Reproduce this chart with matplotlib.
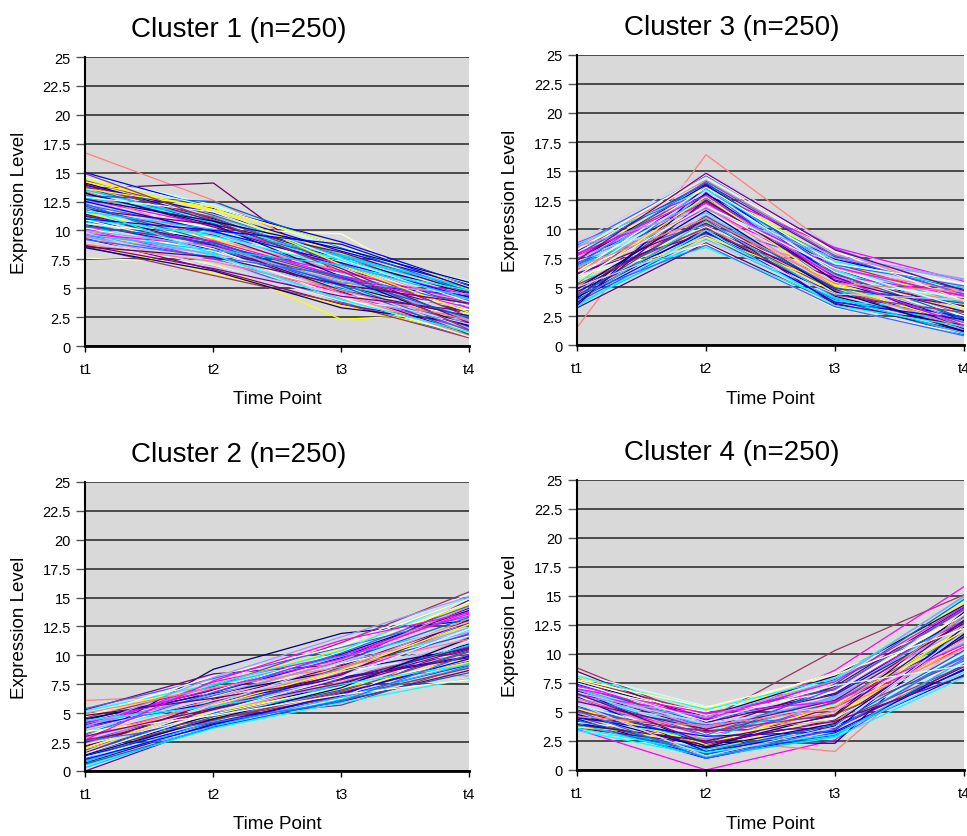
import matplotlib
matplotlib.use("Agg")
import matplotlib.pyplot as plt

plt.rcParams["font.family"] = ["Liberation Sans", "DejaVu Sans"]

time_points = ["t1", "t2", "t3", "t4"]
y_ticks = [0, 2.5, 5, 7.5, 10, 12.5, 15, 17.5, 20, 22.5, 25]
y_tick_labels = ["0", "2.5", "5", "7.5", "10", "12.5", "15", "17.5", "20", "22.5", "25"]

# profiles (a subset of the 250 genes per cluster)
cluster1 = [
    [16.7, 12.6, 7.4, 4.6], [13.6, 14.1, 6.0, 4.2], [7.6, 7.2, 6.3, 3.1],
    [12.0, 10.2, 9.7, 3.5], [10.0, 7.2, 2.3, 2.9], [14.8, 12.2, 8.3, 5.6],
    [14.5, 11.6, 8.0, 4.9], [14.3, 11.3, 7.8, 3.9], [14.1, 11.0, 7.5, 4.5],
    [13.9, 11.5, 8.2, 5.2], [13.7, 10.6, 7.2, 3.3], [13.5, 10.9, 7.7, 4.8],
    [13.3, 10.3, 6.9, 2.6], [13.1, 10.7, 7.4, 4.1], [12.9, 10.1, 6.6, 3.0],
    [12.7, 10.4, 7.0, 4.4], [12.6, 9.8, 6.3, 2.2], [12.4, 9.5, 6.8, 3.7],
    [12.2, 10.0, 6.1, 1.6], [12.0, 9.2, 6.5, 4.0], [11.9, 9.6, 5.9, 2.9],
    [11.7, 8.9, 6.2, 3.5], [11.5, 9.3, 5.6, 1.2], [11.3, 8.6, 5.8, 3.8],
    [11.2, 9.0, 5.3, 2.4], [11.0, 8.3, 5.5, 4.3], [10.8, 8.8, 5.0, 1.9],
    [10.7, 8.1, 5.2, 3.2], [10.5, 8.5, 4.7, 1.0], [10.4, 7.8, 4.9, 2.7],
    [10.2, 8.2, 4.4, 3.6], [10.1, 7.5, 4.6, 1.4], [9.9, 7.9, 4.1, 2.1],
    [9.8, 7.2, 4.3, 3.4], [9.6, 7.6, 3.8, 0.8], [9.5, 6.9, 4.0, 2.5],
    [9.3, 6.6, 3.6, 1.8], [9.1, 7.0, 3.9, 2.8], [8.9, 6.3, 3.5, 1.1],
    [8.6, 6.1, 3.7, 0.7], [8.5, 6.5, 3.3, 2.0], [15.0, 11.9, 9.0, 5.3],
    [13.0, 12.5, 8.5, 4.7], [12.8, 11.2, 7.9, 5.0], [11.8, 10.5, 8.1, 4.6],
    [10.9, 9.7, 7.6, 4.0], [10.6, 9.4, 7.3, 3.1], [9.7, 8.7, 6.4, 3.9],
    [9.4, 8.0, 5.7, 2.3], [9.0, 7.4, 5.1, 1.5], [12.3, 8.4, 5.4, 1.3],
    [13.4, 9.1, 4.5, 0.9], [14.0, 10.8, 6.7, 2.0], [14.6, 12.0, 8.6, 5.4],
    [14.2, 11.8, 8.8, 5.1], [13.8, 11.1, 7.1, 2.5], [13.2, 10.5, 6.0, 1.7],
    [12.5, 9.9, 7.2, 4.2], [12.1, 9.0, 5.2, 1.0], [11.6, 10.1, 7.8, 5.0],
    [11.4, 8.7, 4.8, 2.6], [11.1, 9.5, 6.9, 4.8], [10.9, 8.4, 4.2, 0.8],
    [10.3, 9.1, 6.0, 3.3], [10.0, 8.6, 5.5, 4.5], [9.8, 6.8, 4.5, 1.9],
    [9.2, 7.7, 6.1, 3.6], [8.8, 7.3, 4.8, 2.2], [8.7, 6.7, 4.3, 3.0],
    [12.9, 11.6, 7.5, 3.8], [13.6, 12.0, 7.0, 2.9], [14.9, 10.9, 6.5, 1.4],
    [12.7, 10.8, 8.4, 5.5], [11.0, 10.0, 8.8, 5.0], [10.4, 8.9, 5.9, 2.4],
    [9.6, 8.3, 7.0, 4.1], [8.6, 7.7, 5.3, 3.7], [11.9, 7.9, 4.0, 1.2],
]

cluster2 = [
    [6.1, 6.6, 8.8, 8.2], [0.0, 4.0, 6.6, 10.0], [2.6, 8.8, 11.9, 13.0],
    [2.0, 4.6, 5.7, 9.1], [5.3, 8.4, 9.2, 14.8], [5.0, 7.8, 10.9, 15.3],
    [4.8, 7.6, 10.5, 14.4], [4.6, 7.3, 11.1, 15.5], [4.4, 7.0, 10.1, 13.9],
    [4.2, 6.8, 9.8, 14.1], [4.0, 6.5, 9.5, 13.3], [3.8, 7.4, 9.9, 12.6],
    [3.7, 6.2, 9.1, 12.9], [3.5, 6.0, 8.8, 12.2], [3.3, 6.4, 9.3, 11.7],
    [3.1, 5.8, 8.5, 11.9], [2.9, 5.5, 8.9, 12.4], [2.8, 5.2, 8.2, 11.2],
    [2.6, 5.6, 8.0, 10.8], [2.4, 5.0, 7.7, 11.4], [2.2, 4.8, 7.4, 10.5],
    [2.0, 5.3, 8.6, 10.2], [1.9, 4.6, 7.1, 9.8], [1.7, 4.4, 6.8, 9.5],
    [1.5, 4.9, 7.5, 11.0], [1.3, 4.2, 6.5, 9.2], [1.1, 4.7, 7.0, 10.4],
    [0.9, 3.9, 6.2, 9.0], [0.7, 4.1, 6.0, 8.7], [0.5, 3.7, 5.9, 8.0],
    [3.0, 6.9, 10.3, 14.6], [3.6, 7.7, 10.0, 13.6], [4.3, 5.7, 7.3, 11.6],
    [4.9, 6.1, 7.8, 12.1], [5.4, 8.0, 10.7, 13.4], [2.3, 6.3, 9.6, 14.2],
    [1.6, 5.4, 8.4, 12.8], [1.2, 3.8, 6.3, 11.3], [3.4, 5.1, 7.2, 9.4],
    [2.7, 4.5, 6.4, 8.9], [4.5, 6.7, 8.7, 10.6], [3.9, 5.9, 8.1, 9.9],
    [1.8, 5.0, 9.0, 11.8], [0.8, 4.3, 7.6, 10.9], [2.1, 6.0, 8.3, 13.1],
    [5.2, 7.5, 10.4, 15.0], [4.7, 8.2, 10.8, 14.9], [4.1, 7.1, 9.7, 13.8],
    [3.9, 6.6, 9.4, 12.0], [3.6, 6.3, 8.6, 11.1], [3.2, 6.8, 10.2, 14.3],
    [2.9, 5.9, 8.8, 13.2], [2.5, 5.3, 7.9, 10.7], [2.3, 4.9, 7.3, 9.6],
    [2.0, 5.7, 8.7, 12.7], [1.8, 4.4, 6.9, 10.3], [1.4, 4.5, 7.2, 11.5],
    [1.0, 4.0, 6.7, 9.7], [0.6, 3.8, 6.1, 8.5], [0.3, 3.9, 6.4, 9.3],
    [4.8, 6.3, 8.0, 9.8], [4.4, 5.6, 7.5, 9.2], [3.4, 4.8, 6.6, 7.9],
    [2.7, 7.8, 11.3, 13.7], [3.8, 8.1, 11.6, 15.1], [1.7, 5.8, 9.4, 12.9],
    [2.6, 4.2, 6.0, 10.1], [5.0, 7.2, 9.0, 11.4], [3.0, 5.4, 7.6, 10.6],
    [1.5, 5.1, 8.1, 12.3],
]

cluster3 = [
    [1.5, 16.4, 8.2, 4.2], [8.9, 14.9, 8.5, 5.0], [8.6, 14.6, 8.3, 4.6],
    [8.4, 14.2, 7.9, 3.9], [8.1, 13.9, 7.6, 4.4], [7.9, 14.4, 8.0, 5.2],
    [7.7, 13.6, 7.3, 3.4], [7.5, 13.3, 7.0, 4.0], [7.3, 13.8, 6.6, 2.8],
    [7.1, 13.0, 7.4, 4.8], [6.9, 12.7, 6.2, 2.2], [6.7, 13.4, 6.8, 3.6],
    [6.5, 12.4, 5.9, 1.6], [6.3, 12.9, 6.4, 3.2], [6.1, 12.1, 5.6, 2.5],
    [5.9, 11.8, 6.0, 4.3], [5.7, 12.6, 5.3, 1.3], [5.5, 11.5, 5.7, 3.0],
    [5.3, 13.5, 5.0, 1.9], [5.1, 11.2, 5.4, 3.8], [4.9, 10.9, 4.8, 1.1],
    [4.7, 11.7, 5.1, 2.7], [4.5, 10.6, 4.5, 3.5], [4.3, 10.3, 4.7, 2.0],
    [4.1, 10.0, 4.2, 1.5], [3.9, 9.7, 4.4, 2.4], [3.7, 9.4, 3.9, 0.9],
    [3.5, 9.1, 4.0, 1.8], [3.2, 8.8, 3.6, 1.2], [5.6, 8.4, 3.8, 2.9],
    [6.0, 8.7, 3.2, 1.0], [8.8, 13.2, 8.4, 5.5], [8.3, 12.0, 7.7, 5.7],
    [7.6, 11.0, 7.1, 4.5], [7.0, 10.4, 6.9, 5.1], [6.6, 9.9, 6.5, 4.7],
    [6.2, 9.6, 5.8, 3.3], [5.8, 10.2, 5.5, 4.1], [5.0, 9.3, 5.2, 3.1],
    [4.4, 12.3, 6.1, 2.6], [4.0, 13.1, 5.5, 2.1], [3.4, 13.7, 5.9, 1.4],
    [7.8, 14.0, 6.3, 2.3], [6.8, 11.4, 4.6, 3.7], [4.8, 10.8, 3.5, 1.7],
    [8.7, 13.4, 7.2, 4.9], [8.2, 14.7, 8.1, 3.8], [7.9, 12.2, 6.7, 4.2],
    [7.4, 12.5, 6.0, 2.0], [7.2, 11.3, 5.4, 3.0], [6.9, 14.1, 7.7, 4.4],
    [6.4, 11.9, 5.0, 1.5], [6.1, 10.5, 4.9, 3.4], [5.9, 13.3, 6.3, 2.5],
    [5.4, 12.8, 5.1, 1.8], [5.2, 10.1, 4.3, 2.8], [4.9, 11.6, 4.6, 1.2],
    [4.6, 9.8, 3.7, 2.2], [4.2, 11.1, 4.9, 3.6], [3.8, 10.7, 4.1, 1.0],
    [3.6, 12.5, 5.6, 2.9], [3.3, 9.9, 3.4, 1.6], [6.3, 13.6, 7.0, 5.3],
    [7.7, 12.9, 5.8, 1.7], [8.5, 11.7, 7.5, 5.6], [5.0, 9.0, 4.4, 3.9],
    [4.3, 8.6, 3.3, 0.8], [6.7, 10.9, 5.3, 4.6], [7.3, 14.8, 8.2, 4.7],
    [5.6, 12.0, 6.6, 3.2],
]

cluster4 = [
    [8.8, 4.3, 10.3, 15.1], [3.5, 0.0, 2.6, 9.6], [5.2, 2.6, 1.6, 11.2],
    [4.0, 2.4, 2.3, 12.5], [7.5, 3.6, 8.6, 15.8], [8.3, 5.5, 6.2, 12.0],
    [8.0, 5.3, 7.5, 14.5], [7.8, 4.9, 7.0, 13.8], [7.6, 4.6, 8.1, 14.2],
    [7.4, 4.3, 6.6, 13.2], [7.2, 4.0, 7.8, 12.7], [7.0, 3.8, 6.0, 11.6],
    [6.8, 3.5, 7.2, 14.0], [6.6, 3.3, 5.7, 11.0], [6.4, 3.1, 6.8, 13.5],
    [6.2, 2.9, 5.4, 10.6], [6.0, 2.7, 6.3, 12.2], [5.8, 2.5, 5.0, 10.2],
    [5.6, 2.3, 5.9, 11.8], [5.4, 2.1, 4.7, 9.8], [5.2, 1.9, 5.5, 11.4],
    [5.0, 1.7, 4.4, 9.3], [4.8, 1.5, 4.9, 10.8], [4.6, 1.3, 4.1, 9.0],
    [4.4, 1.1, 3.8, 8.6], [4.2, 1.0, 3.2, 8.2], [4.0, 1.4, 3.0, 9.1],
    [3.8, 1.8, 3.5, 10.0], [3.6, 2.2, 4.3, 11.5], [3.4, 1.2, 2.8, 8.0],
    [7.1, 5.0, 8.4, 13.0], [6.5, 4.8, 6.9, 12.9], [6.1, 4.5, 6.1, 10.9],
    [5.7, 4.2, 5.2, 10.4], [5.3, 3.9, 4.6, 9.7], [4.9, 3.7, 4.2, 11.3],
    [4.5, 3.4, 3.6, 8.9], [4.1, 3.0, 4.0, 10.1], [3.7, 2.8, 4.5, 12.4],
    [7.9, 3.2, 5.8, 11.9], [6.9, 2.0, 4.8, 13.6], [6.3, 1.6, 3.4, 12.3],
    [5.5, 2.4, 7.4, 14.7], [4.7, 2.6, 6.4, 13.1], [8.5, 4.1, 6.5, 12.6],
    [8.1, 5.2, 7.9, 14.9], [7.7, 4.7, 6.8, 13.4], [7.3, 4.4, 7.6, 14.1],
    [6.9, 3.6, 6.2, 12.5], [6.7, 4.0, 5.5, 11.1], [6.5, 3.0, 7.0, 13.9],
    [6.2, 2.6, 5.1, 10.5], [5.9, 3.5, 6.0, 12.8], [5.6, 2.8, 4.5, 10.0],
    [5.3, 2.2, 5.6, 12.0], [5.0, 3.3, 4.8, 9.4], [4.8, 1.9, 4.0, 11.7],
    [4.5, 2.9, 3.3, 8.7], [4.3, 1.6, 3.9, 10.3], [4.0, 1.1, 2.9, 9.5],
    [3.9, 2.5, 4.7, 12.9], [3.6, 1.5, 3.1, 8.4], [7.8, 5.4, 8.2, 12.2],
    [7.0, 4.9, 5.9, 10.8], [6.4, 4.6, 7.7, 15.0], [5.7, 1.2, 3.7, 11.9],
    [5.1, 1.0, 3.5, 9.9], [4.6, 3.8, 5.3, 13.3], [6.6, 2.3, 4.2, 8.1],
    [7.5, 4.2, 7.3, 9.0],
]

titles = ["Cluster 1 (n=250)", "Cluster 3 (n=250)", "Cluster 2 (n=250)", "Cluster 4 (n=250)"]

# old spreadsheet line colours
line_colors = [
    "#9999FF", "#993366", "#FFFFCC", "#CCFFFF", "#660066", "#FF8080", "#0066CC", "#CCCCFF",
    "#000080", "#FF00FF", "#FFFF00", "#00FFFF", "#800080", "#00CCFF", "#3366FF", "#0000FF",
]

# colours of the odd genes that stand out (first rows of each cluster)
outlier_colors = {
    "c1": ["#FF8080", "#660066", "#FFFFCC", "#FFFFCC", "#FFFF00"],
    "c2": ["#FF8080", "#800080", "#000080", "#993366"],
    "c3": ["#FF8080"],
    "c4": ["#993366", "#FF00FF", "#FF8080", "#000080", "#FF00FF"],
}


def draw_cluster(ax, rows, title, special):
    ax.set_facecolor("#D9D9D9")
    x = range(len(time_points))
    for i, row in enumerate(rows):
        if i < len(special):
            color = special[i]
        else:
            color = line_colors[(i * 7) % len(line_colors)]
        ax.plot(x, row, color=color, lw=0.9)

    ax.set_xlim(0, 3)
    ax.set_ylim(0, 25)
    ax.set_xticks(list(x))
    ax.set_xticklabels(time_points)
    ax.set_yticks(y_ticks)
    ax.set_yticklabels(y_tick_labels)
    ax.grid(axis="y", color="#333333", lw=1.2)
    ax.set_axisbelow(True)

    for side in ["top", "right"]:
        ax.spines[side].set_visible(False)
    ax.spines["left"].set_linewidth(1.5)
    ax.spines["bottom"].set_linewidth(2.0)
    ax.spines["bottom"].set_zorder(5)
    ax.spines["left"].set_zorder(5)

    ax.tick_params(axis="y", length=6.5, width=1.0, color="#555555", labelsize=10.5, pad=4)
    ax.tick_params(axis="x", length=4.5, width=1.0, labelsize=10.5, pad=7)

    ax.set_title(title, fontsize=20, pad=15, x=0.4)
    ax.set_xlabel("Time Point", fontsize=13.5)
    ax.set_ylabel("Expression Level", fontsize=13.5)
    ax.xaxis.set_label_coords(0.5, -0.183)
    ax.xaxis.label.set_va("center")
    ax.yaxis.set_label_coords(-0.173, 0.5)
    ax.yaxis.label.set_va("center")


fig = plt.figure(figsize=(9.67, 8.37), dpi=100)

ax1 = fig.add_axes([0.0884, 0.5854, 0.397, 0.3453])
ax3 = fig.add_axes([0.5967, 0.5866, 0.4002, 0.3465])
ax2 = fig.add_axes([0.0884, 0.0777, 0.397, 0.3453])
ax4 = fig.add_axes([0.5967, 0.0789, 0.4002, 0.3465])

draw_cluster(ax1, cluster1, titles[0], outlier_colors["c1"])
draw_cluster(ax3, cluster3, titles[1], outlier_colors["c3"])
draw_cluster(ax2, cluster2, titles[2], outlier_colors["c2"])
draw_cluster(ax4, cluster4, titles[3], outlier_colors["c4"])

fig.savefig("out.png", dpi=100)
